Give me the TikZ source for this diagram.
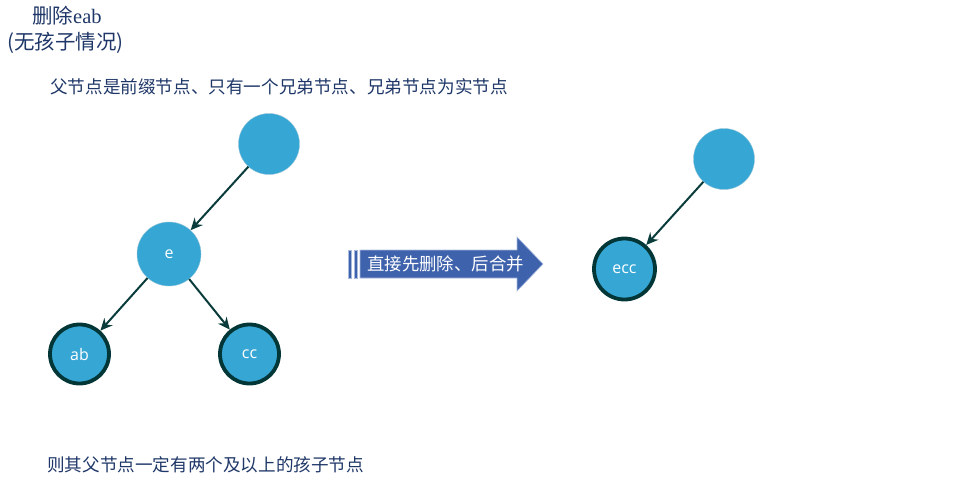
\documentclass[tikz,border=0pt]{standalone}
\usepackage{fontspec}
\setmainfont{Liberation Serif}
\newfontfamily\cjk{Noto Sans CJK SC}
\newfontfamily\labelfont{Open Sans}
\usetikzlibrary{arrows.meta}
\definecolor{nodeblue}{HTML}{36A6D5}
\definecolor{ringdark}{HTML}{033636}
\definecolor{edgedark}{HTML}{0B3C3C}
\definecolor{navytext}{HTML}{1F3768}
\definecolor{arrowblue}{HTML}{3F62AC}
\definecolor{arrowedge}{HTML}{A9BBDD}
\tikzset{
  plain/.style={circle, fill=nodeblue, draw=nodeblue!70!gray!60, line width=0.4pt,
    minimum size=60pt, inner sep=0pt, text=white, font=\labelfont\fontsize{16}{18}\selectfont},
  ringed/.style={plain, draw=ringdark, line width=3.8pt, minimum size=59pt},
  link/.style={draw=edgedark, line width=2pt, -{Stealth[length=12pt,width=11pt]}},
  caption/.style={text=navytext, anchor=west, inner sep=0pt, font=\cjk\fontsize{17.6}{20}\selectfont}
}
\begin{document}
\begin{tikzpicture}[x=1pt,y=-1pt]
\useasboundingbox (0,0) rectangle (974,488);

% headings
\node[text=navytext, inner sep=0pt, anchor=west, font=\fontsize{20.5}{23}\selectfont] (title) at (32,16) {{\cjk 删除}eab};
\node[text=navytext, inner sep=0pt, anchor=west, font=\cjk\fontsize{20.5}{23}\selectfont] (subtitle) at (7,43) {(无孩子情况)};
\node[caption] (cond) at (50,87) {父节点是前缀节点、只有一个兄弟节点、兄弟节点为实节点};
\node[caption] (note) at (47,465) {则其父节点一定有两个及以上的孩子节点};

% tree before deletion
\node[plain, minimum size=61pt] (root) at (269,144) {};
\node[plain, minimum size=64pt] (e) at (169,254) {e};
\node[ringed] (ab) at (79.5,354) {ab};
\node[ringed] (cc) at (249.5,354) {cc};
\draw[link] (root) -- (e);
\draw[link] (e) -- (ab);
\draw[link] (e) -- (cc);

% block arrow with striped tail
\fill[arrowblue, draw=arrowedge, line width=0.6pt]
  (360,250) -- (517,250) -- (517,237) -- (543,264) -- (517,291) -- (517,278) -- (360,278) -- cycle;
\fill[arrowblue, draw=arrowedge, line width=0.6pt] (348,250) rectangle (351.5,278);
\fill[arrowblue, draw=arrowedge, line width=0.6pt] (354,250) rectangle (357.5,278);
\node[text=white, inner sep=0pt, font=\cjk\fontsize{17.4}{20}\selectfont] (merge) at (445.5,264) {直接先删除、后合并};

% tree after merging
\node[plain, minimum size=61pt] (root2) at (724,159) {};
\node[ringed, minimum size=61pt] (ecc) at (624.5,269) {ecc};
\draw[link] (root2) -- (ecc);
\end{tikzpicture}
\end{document}
